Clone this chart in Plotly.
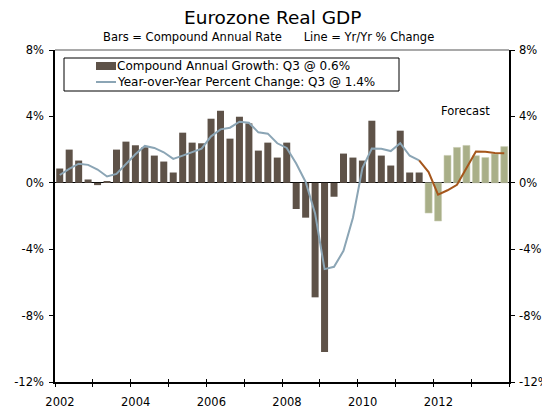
import plotly.graph_objects as go

# ---- data ----
quarters = [f"{y}Q{q}" for y in range(2002, 2014) for q in range(1, 5)]
years = [2002 + i // 4 for i in range(48)]
qnum = [1 + i % 4 for i in range(48)]

# Compound annual growth (bars), actual through 2011Q3
bars_actual = [0.86, 2.0, 1.34, 0.2, -0.14, 0.1, 2.0, 2.48,
               2.26, 2.14, 1.64, 1.28, 0.62, 3.02, 2.42, 2.38,
               3.86, 4.34, 2.66, 3.98, 3.58, 1.94, 2.42, 1.52,
               2.42, -1.58, -2.1, -6.9, -10.2, -0.84, 1.76, 1.52,
               1.34, 3.74, 1.64, 1.04, 3.14, 0.62, 0.62]
# Forecast bars 2011Q4 - 2013Q4
bars_forecast = [-1.82, -2.3, 1.65, 2.13, 2.25, 1.63, 1.52, 1.74, 2.18]

# Year-over-year % change, actual 2002Q1 - 2011Q3
yoy_actual = [0.47, 0.84, 1.15, 1.08, 0.8, 0.38, 0.54, 1.12,
              1.72, 2.22, 2.1, 1.84, 1.44, 1.64, 1.84, 2.06,
              2.8, 3.22, 3.32, 3.68, 3.62, 3.04, 2.96, 2.38,
              2.1, 1.16, 0.05, -1.85, -5.2, -5.06, -4.1, -2.1,
              0.88, 2.06, 2.05, 1.91, 2.39, 1.63, 1.35]
# Forecast YoY 2011Q3 - 2013Q4
yoy_forecast = [1.35, 0.65, -0.72, -0.45, -0.12, 0.85, 1.88, 1.87, 1.8, 1.78]

year_ticks = list(range(2002, 2015))
year_labels = [str(y) if (y % 2 == 0 and y < 2014) else "" for y in year_ticks]
y_ticks = [-12, -8, -4, 0, 4, 8]
y_labels = [f"{v}%" for v in y_ticks]

title = "Eurozone Real GDP"
subtitle = "Bars = Compound Annual Rate\u00a0\u00a0\u00a0\u00a0\u00a0\u00a0Line = Yr/Yr % Change"
legend_bar = "Compound Annual Growth: Q3 @ 0.6%"
legend_line = "Year-over-Year Percent Change: Q3 @ 1.4%"

# ---- positions ----
xpos = [y + (q - 0.5) / 4 for y, q in zip(years, qnum)]
n_act = len(bars_actual)

BROWN = "#5E5248"
GREEN = "#A9AF88"
BLUE = "#8BA5B5"
ORANGE = "#A5561B"
FONT = "DejaVu Sans"

# page body has an 8px margin, so the figure is 8px smaller and shifted
OFF = 8
W, H = 550 - OFF, 408 - OFF
L, R, T, B = 55 - OFF, 41, 50 - OFF, 26

fig = go.Figure()
fig.add_trace(go.Bar(x=xpos[:n_act], y=bars_actual, width=0.185,
                     marker=dict(color=BROWN, line=dict(width=0)), showlegend=False))
fig.add_trace(go.Bar(x=xpos[n_act:], y=bars_forecast, width=0.185,
                     marker=dict(color=GREEN, line=dict(color="#C9CDB3", width=0.6)),
                     showlegend=False))
fig.add_trace(go.Scatter(x=xpos[:n_act], y=yoy_actual, mode="lines",
                         line=dict(color=BLUE, width=2), showlegend=False))
fig.add_trace(go.Scatter(x=xpos[n_act - 1:], y=yoy_forecast, mode="lines",
                         line=dict(color=ORANGE, width=2), showlegend=False))
# dummy trace for inside ticks on x axis
fig.add_trace(go.Scatter(x=[2002, 2014], y=[0, 0], xaxis="x2", mode="none",
                         showlegend=False, hoverinfo="skip"))
# invisible trace so the right axis is drawn
fig.add_trace(go.Scatter(x=[2002], y=[0], yaxis="y2", mode="none", showlegend=False,
                         hoverinfo="skip"))

fig.update_layout(
    width=W, height=H,
    margin=dict(l=L, r=R, t=T, b=B, autoexpand=False),
    paper_bgcolor="white", plot_bgcolor="white",
    font=dict(family=FONT, size=11, color="black"),
    barmode="overlay",
    xaxis=dict(range=[2002, 2014], tickmode="array", tickvals=year_ticks,
               ticktext=year_labels, ticks="outside", ticklen=3, tickcolor="black",
               showline=True, linecolor="black", linewidth=1.5, mirror=False,
               showgrid=False, zeroline=False, ticklabelshift=5, ticklabelstandoff=5,
               automargin=False, tickfont=dict(size=11.5, family=FONT)),
    xaxis2=dict(range=[2002, 2014], overlaying="x", anchor="y", side="bottom",
                tickmode="array", tickvals=year_ticks, ticks="inside", ticklen=3,
                tickcolor="black", showticklabels=False, showgrid=False,
                zeroline=False, showline=False, automargin=False),
    yaxis=dict(range=[-12, 8], tickmode="array", tickvals=y_ticks, ticktext=y_labels,
               ticks="outside", ticklen=4, tickcolor="black", showline=True,
               linecolor="black", linewidth=1.5, showgrid=False, zeroline=True,
               zerolinecolor="black", zerolinewidth=1.3, automargin=False,
               ticklabelstandoff=3, tickfont=dict(size=11.5, family=FONT)),
    yaxis2=dict(range=[-12, 8], tickmode="array", tickvals=y_ticks, ticktext=y_labels,
                overlaying="y", side="right", ticks="outside", ticklen=4,
                tickcolor="black", showline=True, linecolor="black", linewidth=1.5,
                showgrid=False, zeroline=False, automargin=False,
                ticklabelstandoff=2, tickfont=dict(size=11.5, family=FONT)),
)

# top border
fig.add_shape(type="line", xref="paper", yref="paper", x0=0, x1=1, y0=1, y1=1,
              line=dict(color="#555555", width=1.2))


# helpers: page pixel -> paper coordinates
def px_x(px):
    return (px - OFF - L) / (W - L - R)


def px_y(py):
    return 1 - (py - OFF - T) / (H - T - B)


# title + subtitle
fig.add_annotation(text=title, xref="paper", yref="paper", x=px_x(272), y=px_y(17),
                   showarrow=False, font=dict(size=18.5, family=FONT, color="black"),
                   yanchor="middle", xanchor="center")
fig.add_annotation(text=subtitle, xref="paper", yref="paper", x=px_x(268), y=px_y(37),
                   showarrow=False, font=dict(size=11.5, family=FONT, color="black"),
                   yanchor="middle", xanchor="center")

# manual legend (box, symbols, labels)
fig.add_shape(type="rect", xref="paper", yref="paper",
              x0=px_x(64), x1=px_x(399), y0=px_y(91), y1=px_y(58),
              line=dict(color="black", width=1), fillcolor="white", layer="below")
fig.add_shape(type="rect", xref="paper", yref="paper",
              x0=px_x(96), x1=px_x(116), y0=px_y(70), y1=px_y(62),
              line=dict(width=0), fillcolor=BROWN)
fig.add_shape(type="line", xref="paper", yref="paper",
              x0=px_x(96), x1=px_x(116), y0=px_y(82), y1=px_y(82),
              line=dict(color=BLUE, width=2))
fig.add_annotation(text=legend_bar, xref="paper", yref="paper", x=px_x(115), y=px_y(66),
                   showarrow=False, xanchor="left", yanchor="middle",
                   font=dict(size=12, family=FONT, color="black"))
fig.add_annotation(text=legend_line, xref="paper", yref="paper", x=px_x(115), y=px_y(82),
                   showarrow=False, xanchor="left", yanchor="middle",
                   font=dict(size=12, family=FONT, color="black"))

# Forecast label
fig.add_annotation(text="Forecast", xref="paper", yref="paper", x=px_x(465), y=px_y(111),
                   showarrow=False, xanchor="center", yanchor="middle",
                   font=dict(size=11.5, family=FONT, color="black"))

fig.write_html("out.html")
